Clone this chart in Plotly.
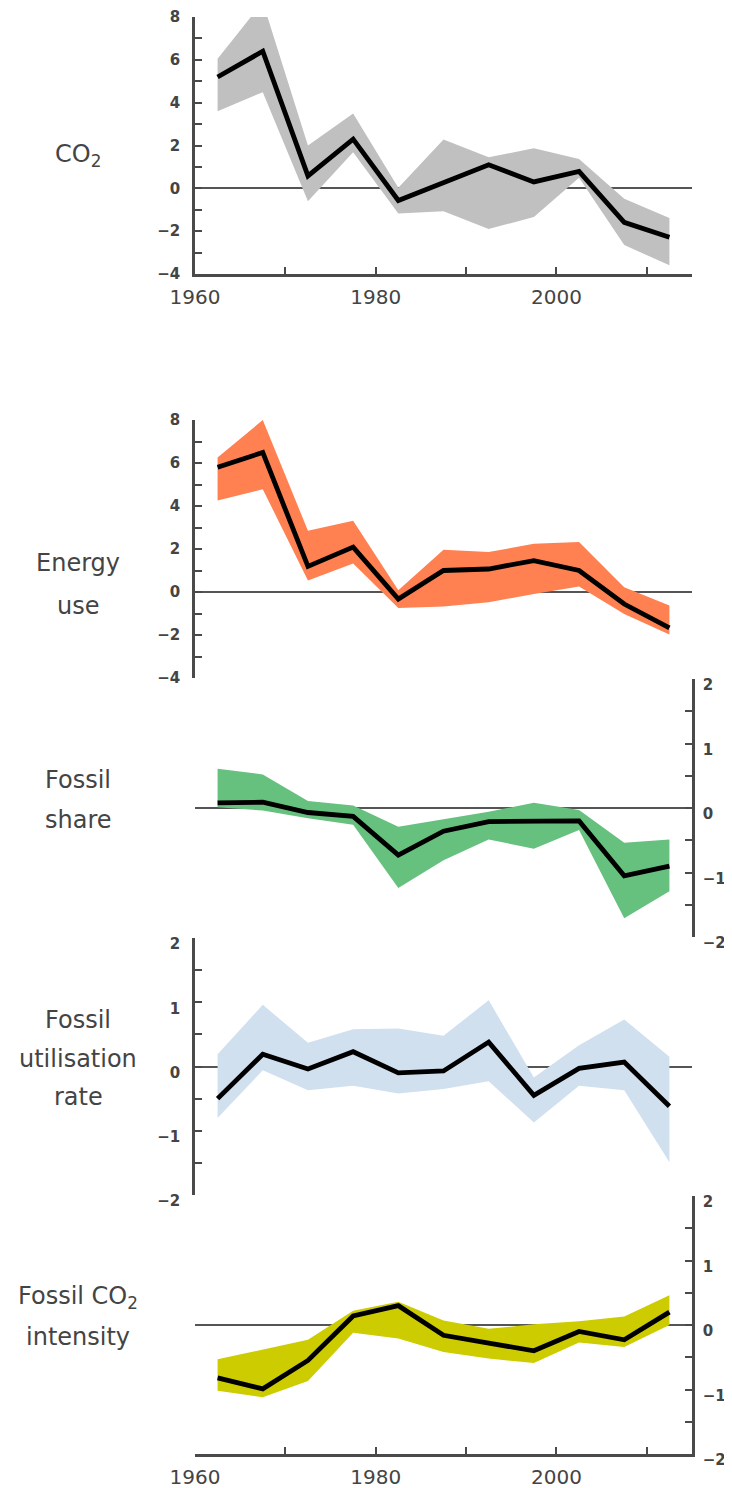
import plotly.graph_objects as go

years = [1962.5, 1967.5, 1972.5, 1977.5, 1982.5, 1987.5, 1992.5, 1997.5, 2002.5, 2007.5, 2012.5]

co2_mean = [5.2, 6.4, 0.58, 2.3, -0.57, 0.25, 1.1, 0.3, 0.79, -1.59, -2.28]
co2_upper = [6.05, 8.7, 2.0, 3.5, 0.03, 2.28, 1.45, 1.87, 1.37, -0.49, -1.39]
co2_lower = [3.6, 4.49, -0.6, 1.69, -1.18, -1.07, -1.9, -1.34, 0.5, -2.65, -3.59]

energy_mean = [5.8, 6.49, 1.19, 2.09, -0.33, 1.0, 1.07, 1.46, 1.0, -0.56, -1.67]
energy_upper = [6.25, 8.0, 2.85, 3.31, 0.08, 1.97, 1.86, 2.24, 2.32, 0.22, -0.63]
energy_lower = [4.26, 4.78, 0.54, 1.32, -0.74, -0.67, -0.48, -0.09, 0.26, -1.02, -1.98]

share_mean = [0.08, 0.09, -0.07, -0.13, -0.73, -0.36, -0.21, -0.2, -0.2, -1.05, -0.9]
share_upper = [0.61, 0.52, 0.11, 0.04, -0.29, -0.18, -0.06, 0.08, -0.03, -0.54, -0.49]
share_lower = [0.01, -0.04, -0.16, -0.26, -1.24, -0.81, -0.49, -0.63, -0.34, -1.71, -1.29]

util_mean = [-0.5, 0.19, -0.04, 0.23, -0.1, -0.07, 0.38, -0.45, -0.03, 0.07, -0.62]
util_upper = [0.19, 0.96, 0.37, 0.58, 0.59, 0.48, 1.03, -0.17, 0.33, 0.73, 0.15]
util_lower = [-0.8, -0.06, -0.37, -0.3, -0.42, -0.35, -0.23, -0.87, -0.3, -0.37, -1.49]

intens_mean = [-0.82, -0.99, -0.55, 0.14, 0.3, -0.16, -0.28, -0.4, -0.1, -0.23, 0.2]
intens_upper = [-0.53, -0.38, -0.23, 0.22, 0.36, 0.07, -0.06, 0.01, 0.06, 0.13, 0.46]
intens_lower = [-1.02, -1.12, -0.87, -0.12, -0.21, -0.42, -0.52, -0.59, -0.27, -0.34, 0.0]

panel_labels = [["CO<sub>2</sub>"], ["Energy", "use"], ["Fossil", "share"],
                ["Fossil", "utilisation", "rate"], ["Fossil CO<sub>2</sub>", "intensity"]]
x_tick_years = [1960, 1980, 2000]
x_minor_years = [1970, 1990, 2010]

# The page body has an 8px margin, so the figure is drawn 8px to the right and down.
OFF = 8
W, H = 732 - OFF, 1488 - OFF
AX = "#4a4a4a"
TXT = "#444444"
FONT = "DejaVu Sans"


def px_x(px):
    return (px - OFF) / W


def px_y(py):
    return 1 - (py - OFF) / H


panels = [
    dict(mean=co2_mean, up=co2_upper, lo=co2_lower, color="#c0c0c0", yr=[-4, 8], dt=2, mdt=1,
         top=17, bot=274, side="left", xaxis=True, shift=0,
         lab_y=[156]),
    dict(mean=energy_mean, up=energy_upper, lo=energy_lower, color="#ff8050", yr=[-4, 8], dt=2, mdt=1,
         top=420, bot=678, side="left", xaxis=False, shift=0,
         lab_y=[563, 606]),
    dict(mean=share_mean, up=share_upper, lo=share_lower, color="#66c07e", yr=[-2, 2], dt=1, mdt=0.5,
         top=679, bot=937, side="right", xaxis=False, shift=6,
         lab_y=[780, 820]),
    dict(mean=util_mean, up=util_upper, lo=util_lower, color="#d0e0ef", yr=[-2, 2], dt=1, mdt=0.5,
         top=938, bot=1195, side="left", xaxis=False, shift=6,
         lab_y=[1020, 1059, 1097]),
    dict(mean=intens_mean, up=intens_upper, lo=intens_lower, color="#cccc00", yr=[-2, 2], dt=1, mdt=0.5,
         top=1196, bot=1454, side="right", xaxis=True, shift=6,
         lab_y=[1297, 1337]),
]

fig = go.Figure()
x_dom = [px_x(195), px_x(692)]
annotations = []

for i, p in enumerate(panels, start=1):
    xn = "x" if i == 1 else f"x{i}"
    yn = "y" if i == 1 else f"y{i}"
    fig.add_trace(go.Scatter(x=years, y=p["lo"], mode="lines", line=dict(width=0),
                             xaxis=xn, yaxis=yn, showlegend=False, hoverinfo="skip"))
    fig.add_trace(go.Scatter(x=years, y=p["up"], mode="lines", line=dict(width=0),
                             fill="tonexty", fillcolor=p["color"],
                             xaxis=xn, yaxis=yn, showlegend=False, hoverinfo="skip"))
    fig.add_trace(go.Scatter(x=years, y=p["mean"], mode="lines",
                             line=dict(color="black", width=4.8),
                             xaxis=xn, yaxis=yn, showlegend=False))

    xa = dict(domain=x_dom, range=[1960, 2015], anchor=yn, showgrid=False, zeroline=False,
              automargin=False)
    if p["xaxis"]:
        xa.update(showline=True, linecolor=AX, linewidth=2.5, ticks="inside", ticklen=7,
                  tickwidth=2, tickcolor=AX, tickmode="array",
                  tickvals=x_tick_years,
                  minor=dict(tickmode="array", tickvals=x_minor_years, ticks="inside", ticklen=7,
                             tickwidth=2, tickcolor=AX),
                  tickfont=dict(family=FONT, size=20, color=TXT),
                  ticklabelstandoff=3, ticklabeloverflow="allow")
    else:
        xa.update(visible=False)

    ya = dict(domain=[px_y(p["bot"]), px_y(p["top"])], range=p["yr"], anchor=xn,
              side=p["side"], showline=True, linecolor=AX, linewidth=2.5,
              ticks="inside", ticklen=7, tickwidth=2, tickcolor=AX,
              tickmode="linear", tick0=0, dtick=p["dt"],
              minor=dict(dtick=p["mdt"], ticks="inside", ticklen=7, tickwidth=2, tickcolor=AX),
              showgrid=False, zeroline=True, zerolinecolor="#555555", zerolinewidth=2,
              tickfont=dict(family=FONT, size=15, color=TXT, weight="bold"),
              ticklabelstandoff=(9 if p["side"] == "left" else 5),
              ticklabelshift=p["shift"], ticklabeloverflow="allow",
              automargin=False)

    fig.layout[("xaxis" if i == 1 else f"xaxis{i}")] = xa
    fig.layout[("yaxis" if i == 1 else f"yaxis{i}")] = ya

    for text, yy in zip(panel_labels[i - 1], p["lab_y"]):
        annotations.append(dict(text=text, x=px_x(78), y=px_y(yy), xref="paper", yref="paper",
                                xanchor="center", yanchor="middle", showarrow=False,
                                font=dict(family=FONT, size=24, color=TXT)))

fig.update_layout(template="none", width=W, height=H,
                  margin=dict(l=0, r=0, t=0, b=0, pad=0, autoexpand=False),
                  paper_bgcolor="white", plot_bgcolor="white",
                  annotations=annotations, showlegend=False)

fig.write_html("out.html")
